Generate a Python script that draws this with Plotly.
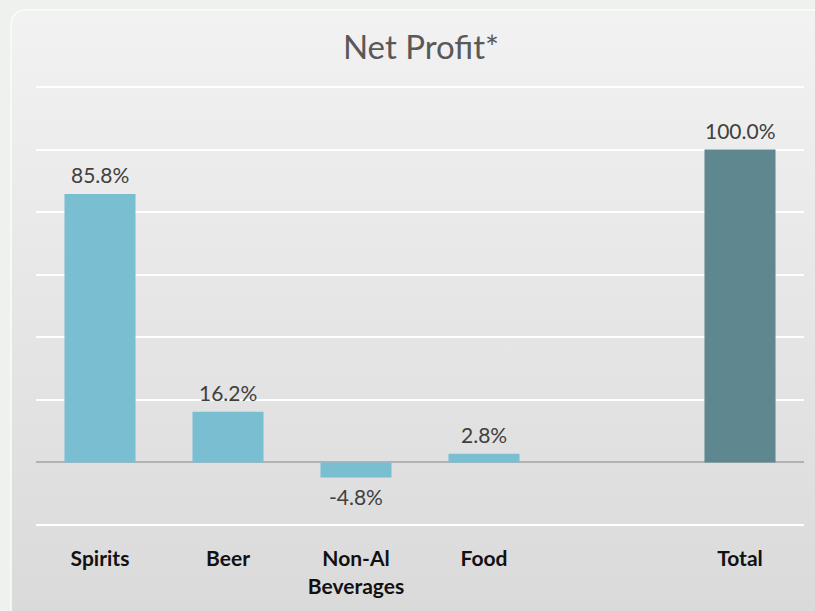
import math
import plotly.graph_objects as go

categories = ["Spirits", "Beer", "Non-Al<br>Beverages", "Food", " ", "Total"]
values = [85.8, 16.2, -4.8, 2.8, None, 100.0]
value_labels = ["85.8%", "16.2%", "-4.8%", "2.8%", "", "100.0%"]
bar_colors = ["#79bfd1", "#79bfd1", "#79bfd1", "#79bfd1", "#79bfd1", "#5f8790"]

W, H = 815, 611
fig = go.Figure()

# background panel (decoration) on a full-page helper axis
r = 14
L, T, R, B = 11, 10, 830, 625
path_x, path_y = [], []
for i in range(0, 11):
    a = math.pi + (math.pi / 2) * i / 10
    path_x.append(L + r + r * math.cos(a)); path_y.append(T + r + r * math.sin(a))
path_x += [R, R, L, L]
path_y += [T, B, B, T + r]
fig.add_trace(go.Scatter(
    x=path_x, y=path_y, mode="lines", fill="toself",
    line=dict(color="#fbfbfb", width=1.5),
    fillgradient=dict(type="vertical", colorscale=[[0, "#f2f2f2"], [1, "#dadada"]], start=T, stop=H),
    hoverinfo="skip", showlegend=False, xaxis="x", yaxis="y"))

fig.add_trace(go.Bar(
    x=categories, y=values, marker=dict(color=bar_colors, line=dict(width=0)),
    width=0.555, xaxis="x2", yaxis="y2", showlegend=False, hoverinfo="skip"))

for c, v, t in zip(categories, values, value_labels):
    if v is None or not t:
        continue
    fig.add_annotation(
        x=c, y=v, xref="x2", yref="y2", text=t, showarrow=False,
        yanchor="bottom" if v >= 0 else "top", yshift=5 if v >= 0 else -5,
        font=dict(family="Lato", size=21, color="#404040"))

ppu = (525 - 87) / 140.0
ext = 0.4
fig.update_layout(
    width=W, height=H, margin=dict(l=0, r=0, t=0, b=0),
    paper_bgcolor="#eff1ef", plot_bgcolor="rgba(0,0,0,0)",
    xaxis=dict(domain=[0, 1], range=[0, W], visible=False, fixedrange=True),
    yaxis=dict(domain=[0, 1], range=[H, 0], visible=False, fixedrange=True),
    xaxis2=dict(domain=[36 / W, 804 / W], anchor="y2", showgrid=False, showline=False,
                ticks="", tickfont=dict(family="Lato", size=21, color="#111111", weight="bold"),
                ticklabelstandoff=18),
    yaxis2=dict(domain=[(H - 525 - ext * ppu) / H, (H - 87 + ext * ppu) / H], anchor="x2",
                range=[-20 - ext, 120 + ext], tickvals=[-20, 0, 20, 40, 60, 80, 100, 120],
                showticklabels=False, gridcolor="#ffffff", gridwidth=1.5,
                zeroline=True, zerolinecolor="#b3b3b3", zerolinewidth=2),
    title=dict(text="Net Profit*", x=421 / W, xanchor="center", y=1 - 47 / H, yanchor="middle",
               font=dict(family="Lato", size=33, color="#595959", weight=400)),
)
fig.write_html("out.html", config={"displayModeBar": False},
               post_script="document.body.style.margin='0';document.body.style.background='#eff1ef';")
